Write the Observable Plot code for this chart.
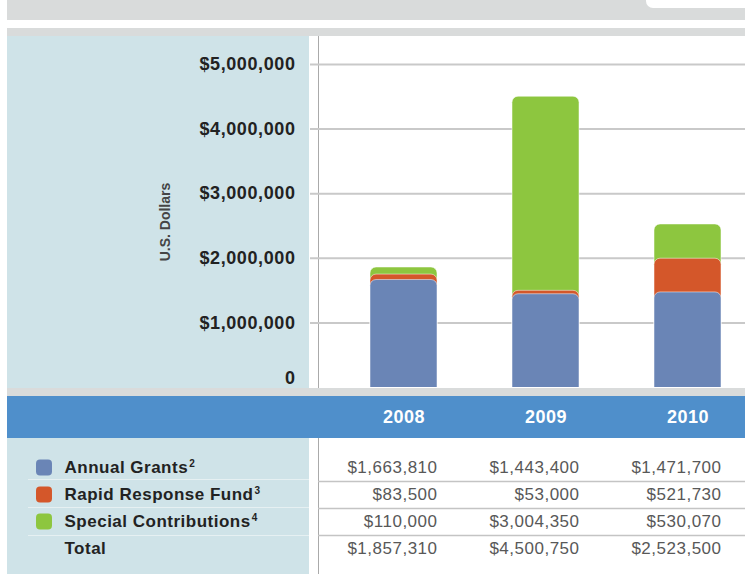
<!DOCTYPE html>
<html><head><meta charset="utf-8">
<script src="https://cdn.jsdelivr.net/npm/d3@7"></script>
<script src="https://cdn.jsdelivr.net/npm/@observablehq/plot@0.6"></script>
<style>
body{margin:0;width:745px;height:574px;position:relative;overflow:hidden;background:#fff;font-family:"Liberation Sans",Arial,sans-serif}
.abs{position:absolute}
svg{font-family:"Liberation Sans",Arial,sans-serif}
</style></head><body>
<div class="abs" style="left:7px;top:0;width:738px;height:20px;background:#d9dbdb"></div>
<div class="abs" style="left:646px;top:0;width:99px;height:8px;background:#fff;border-bottom-left-radius:7px"></div>
<div class="abs" style="left:7px;top:28px;width:738px;height:8px;background:#d9dbdb"></div>
<div class="abs" style="left:7px;top:36px;width:302px;height:352px;background:#cfe3e8"></div>
<div class="abs" style="left:7px;top:438px;width:302px;height:136px;background:#cfe3e8"></div>
<div class="abs" style="left:7px;top:388px;width:738px;height:8px;background:#d9dbdb"></div>
<div class="abs" style="left:7px;top:396px;width:738px;height:42px;background:#4f8fcb"></div>
<div class="abs" style="left:318px;top:36px;width:1px;height:352px;background:#aaa"></div>
<div class="abs" style="left:318px;top:438px;width:1px;height:136px;background:#aaa"></div>
<div class="abs" style="left:28px;top:479px;width:281px;height:1px;background:#e6f0f2"></div>
<div class="abs" style="left:28px;top:507px;width:281px;height:1px;background:#e6f0f2"></div>
<div class="abs" style="left:28px;top:535px;width:281px;height:1px;background:#e6f0f2"></div>
<div class="abs" style="left:165px;top:222px;transform:translate(-50%,-50%) rotate(-90deg);font-weight:bold;font-size:14px;color:#444;white-space:nowrap">U.S. Dollars</div>
<div id="chart" class="abs" style="left:0;top:36px"></div>
<div id="table" class="abs" style="left:0;top:396px"></div>
<script>
const years = ["2008", "2009", "2010"];
const annualGrants = [1663810, 1443400, 1471700];
const rapidResponse = [83500, 53000, 521730];
const specialContrib = [110000, 3004350, 530070];
const totals = [1857310, 4500750, 2523500];
const rowNames = ["Annual Grants", "Rapid Response Fund", "Special Contributions", "Total"];
const rowFootnotes = ["2", "3", "4", ""];
const seriesColors = ["#6a85b6", "#d4572a", "#8dc63f"];
const yTicks = [0, 1000000, 2000000, 3000000, 4000000, 5000000];

const fmt = d3.format("$,");
const bars = years.map((y, i) => ({
  year: y,
  topA: annualGrants[i],
  topR: annualGrants[i] + rapidResponse[i],
  topS: annualGrants[i] + rapidResponse[i] + specialContrib[i]
}));

const xScale = {type: "band", domain: years, range: [293.5, 796.5], padding: 0.53, axis: null};
const barOpts = {x: "year", y1: 0, rx: 6, ry: 6, insetBottom: -10, clip: true, stroke: "#ffffff", strokeOpacity: 0.5, strokeWidth: 1};

const chart = Plot.plot({
  width: 745, height: 352,
  marginLeft: 310, marginRight: 0, marginTop: 0, marginBottom: 1,
  style: {background: "transparent", overflow: "visible", letterSpacing: "0.6px"},
  x: xScale,
  y: {domain: [0, 5000000], range: [351, 28], axis: null},
  marks: [
    Plot.ruleY(yTicks.filter(d => d > 0), {y: d => d, stroke: "#c9c9c9", strokeWidth: 2}),
    Plot.barY(bars, {...barOpts, y2: "topS", fill: seriesColors[2]}),
    Plot.barY(bars, {...barOpts, y2: "topR", fill: seriesColors[1]}),
    Plot.barY(bars, {...barOpts, y2: "topA", fill: seriesColors[0]}),
    Plot.text(yTicks.filter(d => d > 0), {y: d => d, text: d => fmt(d), frameAnchor: "left", dx: -15, textAnchor: "end", lineAnchor: "middle", fontWeight: "bold", fontSize: 18, fill: "#222"}),
    Plot.text(yTicks.filter(d => d === 0), {y: d => d, text: d => String(d), frameAnchor: "left", dx: -15, dy: -9, textAnchor: "end", lineAnchor: "middle", fontWeight: "bold", fontSize: 18, fill: "#222"})
  ]
});
document.getElementById("chart").appendChild(chart);

const seriesValues = [annualGrants, rapidResponse, specialContrib, totals];
const cells = [];
rowNames.forEach((r, ri) => years.forEach((y, yi) => cells.push({row: r, year: y, label: fmt(seriesValues[ri][yi])})));
const swatches = rowNames.slice(0, 3).map((r, i) => ({row: r, color: seriesColors[i]}));

const table = Plot.plot({
  width: 745, height: 178,
  marginLeft: 318, marginRight: 0, marginTop: 42, marginBottom: 0,
  style: {background: "transparent", overflow: "visible", letterSpacing: "0.5px"},
  x: xScale,
  y: {type: "point", domain: rowNames, range: [69.5, 153], padding: 0, axis: null},
  marks: [
    Plot.text(years, {x: d => d, text: d => d, frameAnchor: "top", dy: -21, lineAnchor: "middle", fill: "#ffffff", fontWeight: "bold", fontSize: 18}),
    Plot.ruleY(rowNames.slice(0, 3), {y: d => d, dy: 14, stroke: "#c4c4c4", strokeWidth: 1.5}),
    Plot.text(cells, {x: "year", y: "row", text: "label", textAnchor: "end", lineAnchor: "middle", dx: 33.5, fill: "#585858", fontSize: 17}),
    Plot.dot(swatches, {y: "row", frameAnchor: "left", dx: -274.5, symbol: "square", r: 4.5, fill: "color", stroke: "color", strokeWidth: 8, strokeLinejoin: "round"}),
    Plot.text(rowNames, {y: d => d, text: d => d, frameAnchor: "left", dx: -254, textAnchor: "start", lineAnchor: "middle", fontWeight: "bold", fontSize: 17, fill: "#222"})
  ]
});
document.getElementById("table").appendChild(table);

// add footnote superscripts as tspans
table.querySelectorAll("text").forEach(t => {
  const i = rowNames.indexOf(t.textContent);
  if (i < 0 || !rowFootnotes[i]) return;
  const ts = document.createElementNS("http://www.w3.org/2000/svg", "tspan");
  ts.setAttribute("font-size", "10");
  ts.setAttribute("dy", "-6");
  ts.setAttribute("dx", "1");
  ts.textContent = rowFootnotes[i];
  t.appendChild(ts);
});
</script>
</body></html>
